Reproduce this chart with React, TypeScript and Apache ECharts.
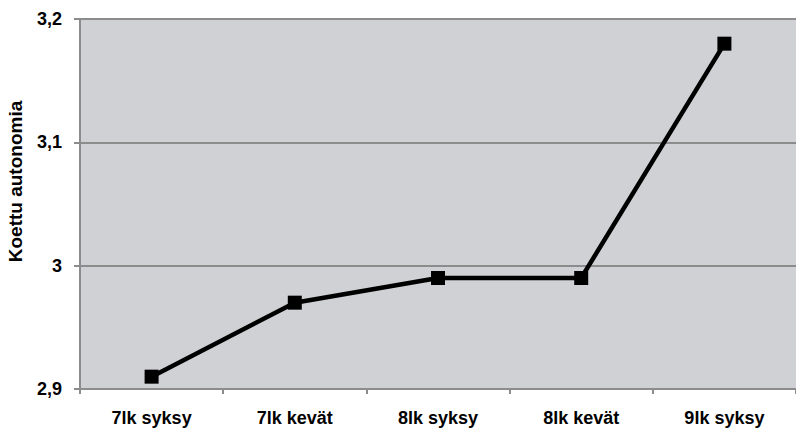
import React, { useEffect, useRef } from "react";
import * as echarts from "echarts";

const categories = ["7lk syksy", "7lk kevät", "8lk syksy", "8lk kevät", "9lk syksy"];
const values = [2.91, 2.97, 2.99, 2.99, 3.18];
const yAxisName = "Koettu autonomia";

export default function App() {
  const ref = useRef<HTMLDivElement>(null);
  useEffect(() => {
    document.body.style.margin = "0";
    const chart = echarts.init(ref.current!, null, { renderer: "svg" });
    const font = "Liberation Sans, Arial, sans-serif";
    chart.setOption({
      animation: false,
      backgroundColor: "#ffffff",
      grid: {
        left: 80,
        top: 19,
        width: 722,
        bottom: 39,
        show: true,
        backgroundColor: "#d0d1d4",
        borderWidth: 0,
      },
      graphic: [
        {
          type: "text",
          x: 15,
          y: 181.5,
          rotation: Math.PI / 2,
          style: {
            text: yAxisName,
            fill: "#000",
            font: `bold 19px ${font}`,
            align: "center",
            verticalAlign: "middle",
          },
        },
      ],
      xAxis: {
        type: "category",
        data: categories,
        boundaryGap: true,
        axisLine: { show: true, lineStyle: { color: "#8c8c8c", width: 2 } },
        axisTick: { show: true, length: 5, lineStyle: { color: "#8c8c8c", width: 2 } },
        axisLabel: {
          color: "#000",
          fontFamily: font,
          fontWeight: "bold",
          fontSize: 18,
          margin: 20,
        },
        splitLine: { show: false },
      },
      yAxis: {
        type: "value",
        min: 2.9,
        max: 3.2,
        interval: 0.1,
        axisLine: { show: true, lineStyle: { color: "#8c8c8c", width: 2 } },
        axisTick: { show: true, length: 6, lineStyle: { color: "#8c8c8c", width: 2 } },
        axisLabel: {
          color: "#000",
          fontFamily: font,
          fontWeight: "bold",
          fontSize: 18,
          margin: 18,
          formatter: (v: number) => (Math.round(v * 10) / 10).toString().replace(".", ","),
        },
        splitLine: { show: true, lineStyle: { color: "#8c8c8c", width: 2 } },
      },
      series: [
        {
          type: "line",
          data: values,
          symbol: "rect",
          symbolSize: 14,
          lineStyle: { color: "#000", width: 4.5 },
          itemStyle: { color: "#000" },
        },
      ],
    });
    return () => chart.dispose();
  }, []);
  return <div ref={ref} style={{ width: 796, height: 428 }} />;
}
